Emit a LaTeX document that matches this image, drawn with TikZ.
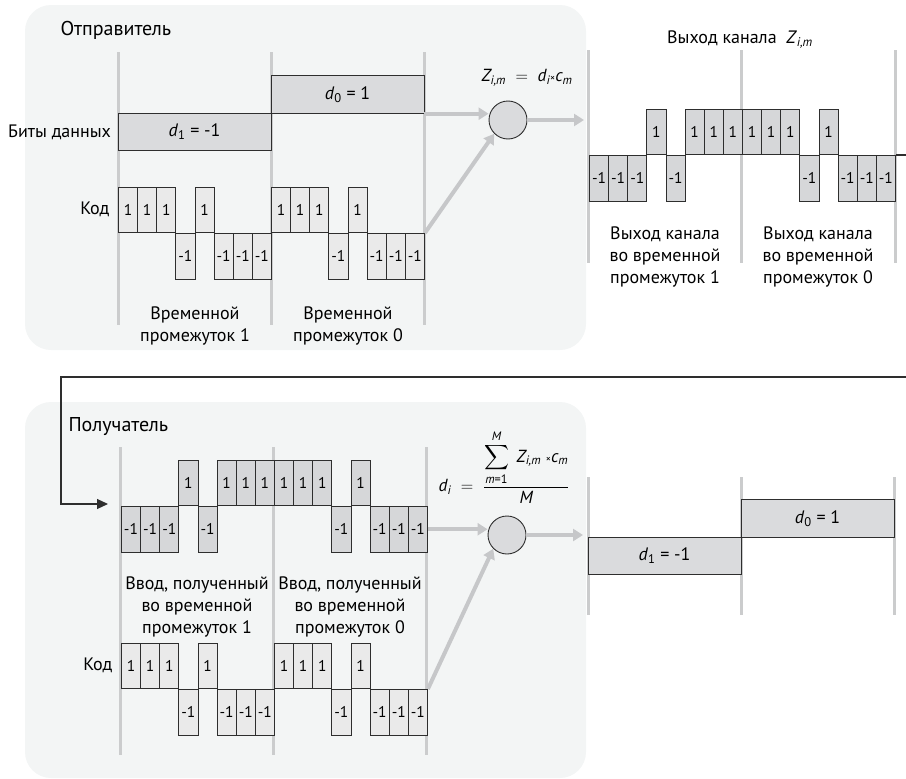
\documentclass[tikz,border=0pt]{standalone}
\usepackage{amsmath}
\usepackage{fontspec}
\setmainfont{PT Sans}
\usetikzlibrary{positioning,arrows.meta}
\definecolor{panelbg}{HTML}{F3F5F5}
\definecolor{sepgray}{HTML}{CBCCCD}
\definecolor{arrowgray}{HTML}{C6C7C9}
\definecolor{chiplight}{HTML}{EAEAEA}
\definecolor{chipdark}{HTML}{D6D7D9}
\definecolor{bitfill}{HTML}{DADBDD}
\definecolor{ink}{HTML}{2E2E2E}
\newcommand{\itx}[1]{\text{\itshape #1}}
% one row of chips: name, x0, zero line, style, values
\newcommand{\chiprow}[5]{%
  \foreach \v [count=\k] in {#5}{%
    \ifnum\v>0
      \node[#4, anchor=south west] (#1\k) at ({#2+(\k-1)*19.125},#3) {1};
    \else
      \node[#4, anchor=north west] (#1\k) at ({#2+(\k-1)*19.125},#3) {-1};
    \fi}}

\begin{document}
\begin{tikzpicture}[x=1pt, y=-1pt,
  font=\fontsize{18}{21}\selectfont,
  panel/.style={fill=panelbg, rounded corners=26pt},
  slot/.style={draw=sepgray, line width=3pt},
  chip/.style={draw=ink, line width=0.9pt, minimum width=19.125pt, minimum height=45.6pt, inner sep=0pt, font=\fontsize{15.5}{15.5}\selectfont},
  codechip/.style={chip, fill=chiplight},
  sigchip/.style={chip, fill=chipdark},
  bit/.style={draw=ink, line width=0.9pt, fill=bitfill, minimum width=153pt, minimum height=37.5pt, inner sep=0pt},
  mult/.style={circle, draw=ink, line width=0.9pt, fill=bitfill, minimum size=38pt, inner sep=0pt},
  feed/.style={-{Triangle[length=10pt,width=12pt]}, line width=4pt, draw=arrowgray},
  link/.style={-{Triangle[length=11pt,width=10pt]}, line width=1.1pt, draw=ink},
  title/.style={font=\fontsize{20}{23}\selectfont, anchor=west},
  note/.style={align=center, font=\fontsize{18}{22}\selectfont},
  formula/.style={font=\fontsize{17.5}{20}\selectfont}]
\useasboundingbox (0,0) rectangle (906,779);

% sender
\fill[panel] (25,5) rectangle (586,350);
\node[title] (snd) at (57,30) {Отправитель};
\foreach \x in {118,271,424} \draw[slot] (\x,52) -- (\x,325);
\node[bit] (sd1) at (194.5,132) {\textit{d}\textsubscript{1} = -1};
\node[bit] (sd0) at (347.5,94.5) {\textit{d}\textsubscript{0} = 1};
\node[left=3pt of sd1] (sbits) {Биты данных};
\chiprow{sk}{118}{233}{codechip}{1,1,1,-1,1,-1,-1,-1,1,1,1,-1,1,-1,-1,-1}
\node[left=5pt of sk1] (skod) {Код};
\node[note] (st1) at (195,326) {Временной\\промежуток 1};
\node[note] (st0) at (348,326) {Временной\\промежуток 0};
\node[mult] (smul) at (508,120) {};
\node[formula] (sform) at (527,78) {$\itx{Z}_{\itx{i,m}} \;=\; \itx{d}_{\itx{i}}\text{\fontsize{10}{10}\selectfont ×}\itx{c}_{\itx{m}}$};
\coordinate (sout) at (584,120);
\draw[feed] (sd0.south east) -- (sd0.south east -| smul.west);
\draw[feed] (sk16.north east) -- (smul.south west);
\draw[feed] (smul.east) -- (sout);

% channel
\foreach \x in {588,741,895} \draw[slot] (\x,50) -- (\x,263);
\node (chtitle) at (740,40) {Выход канала~~\textit{Z}\textsubscript{\textit{i,m}}};
\chiprow{ch}{589}{155}{sigchip}{-1,-1,-1,1,-1,1,1,1,1,1,1,-1,1,-1,-1,-1}
\node[note] (cht1) at (665,257) {Выход канала\\во временной\\промежуток 1};
\node[note] (cht0) at (818,257) {Выход канала\\во временной\\промежуток 0};

% receiver
\fill[panel] (25,402) rectangle (586,778);
\node[title] (rcv) at (65,427) {Получатель};
\foreach \x in {120,273,426} \draw[slot] (\x,447) -- (\x,755);
\chiprow{rv}{121}{506}{sigchip}{-1,-1,-1,1,-1,1,1,1,1,1,1,-1,1,-1,-1,-1}
\chiprow{rk}{121}{689}{codechip}{1,1,1,-1,1,-1,-1,-1,1,1,1,-1,1,-1,-1,-1}
\node[left=5pt of rk1] (rkod) {Код};
\node[note] (rt1) at (197,607) {Ввод, полученный\\во временной\\промежуток 1};
\node[note] (rt0) at (350,607) {Ввод, полученный\\во временной\\промежуток 0};
\node[mult] (rmul) at (507,535) {};
\node[formula] (rform) at (504,467) {$\itx{d}_{\itx{i}} \;=\; \dfrac{\displaystyle\sum_{\itx{m}\text{=1}}^{\itx{M}}\; \itx{Z}_{\itx{i,m}}\;\text{\fontsize{10}{10}\selectfont ×}\itx{c}_{\itx{m}}}{\itx{M}}$};
\coordinate (rout) at (583,535);
\draw[feed] (rv16.east) -- (rv16.east -| rmul.west);
\draw[feed] (rk16.north east) -- (rmul.south west);
\draw[feed] (rmul.east) -- (rout);

% decoded bits
\foreach \x in {588,741,894} \draw[slot] (\x,477) -- (\x,615);
\node[bit] (od1) at (664.5,556) {\textit{d}\textsubscript{1} = -1};
\node[bit] (od0) at (817.5,518.5) {\textit{d}\textsubscript{0} = 1};

% channel to receiver
\coordinate (bend) at (61,377);
\coordinate (loopin) at (108,504);
\draw[link] (ch16.north east) -- ++(17,0) |- (bend) |- (loopin);
\end{tikzpicture}
\end{document}
